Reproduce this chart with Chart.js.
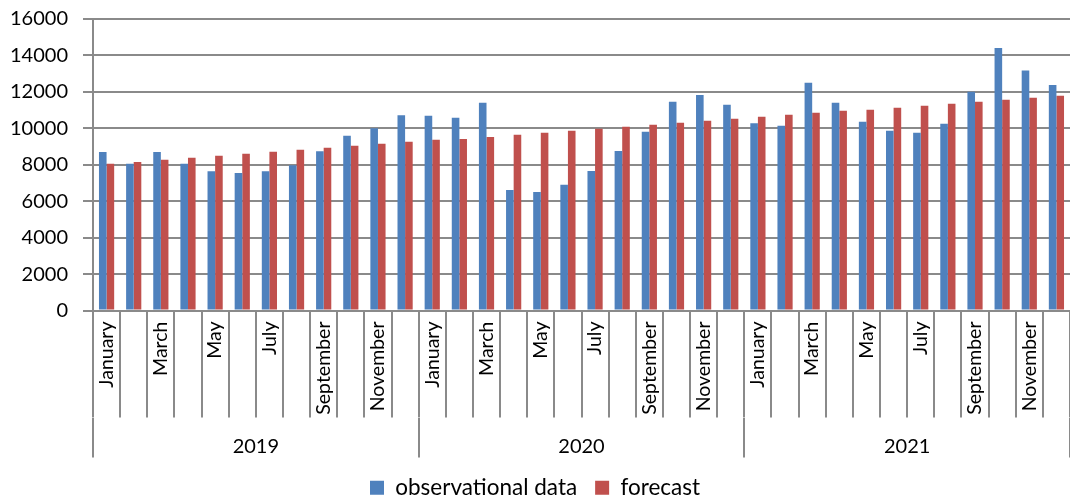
<!DOCTYPE html>
<html>
<head>
<meta charset="utf-8">
<script src="https://cdn.jsdelivr.net/npm/chart.js@4/dist/chart.umd.min.js"></script>
<style>
  html, body { margin: 0; padding: 0; background: #fff; }
  #wrap { width: 1070px; height: 498px; }
</style>
</head>
<body>
<div id="wrap"><canvas id="chart"></canvas></div>
<script>
const months = ["January", "February", "March", "April", "May", "June",
	"July", "August", "September", "October", "November", "December"];
const years = ["2019", "2020", "2021"];
const yTicks = [0, 2000, 4000, 6000, 8000, 10000, 12000, 14000, 16000];

const observed = [
	8700, 8050, 8700, 8050, 7650, 7550, 7650, 7970, 8740, 9590, 10000, 10720,
	10690, 10580, 11400, 6610, 6500, 6900, 7660, 8760, 9810, 11460, 11830, 11300,
	10280, 10140, 12500, 11400, 10360, 9860, 9750, 10250, 12010, 14410, 13170, 12380
];
const forecast = [
	8050, 8150, 8270, 8380, 8490, 8600, 8710, 8820, 8930, 9040, 9150, 9260,
	9370, 9420, 9530, 9640, 9750, 9860, 9970, 10080, 10190, 10300, 10410, 10520,
	10630, 10740, 10850, 10960, 11020, 11130, 11240, 11350, 11460, 11570, 11680, 11790
];

const labels = [];
years.forEach(y => months.forEach(m => labels.push(m)));

const gridColor = "#8a8a8a";
const fontFamily = "Lato, 'Noto Sans', sans-serif";

new Chart("chart", {
	type: "bar",
	data: {
		labels: labels,
		datasets: [{
			label: "observational data",
			data: observed,
			backgroundColor: "#4f81bd"
		},
		{
			label: "forecast",
			data: forecast,
			backgroundColor: "#c0504d"
		}]
	},
	options: {
		responsive: true,
		maintainAspectRatio: false,
		animation: false,
		categoryPercentage: 0.56,
		barPercentage: 1,
		layout: { padding: { top: 19, left: 0, right: 0, bottom: -11 } },
		plugins: {
			tooltip: { enabled: false },
			legend: {
				position: "bottom",
				labels: {
					boxWidth: 14,
					boxHeight: 14,
					padding: 18,
					color: "#000",
					font: { family: fontFamily, size: 22.5 }
				}
			}
		},
		scales: {
			y: {
				min: 0,
				max: 16000,
				afterFit: s => {
					s.width = 93;
					s.paddingTop = 0;
					s.paddingBottom = 0;
				},
				afterBuildTicks: s => { s.ticks = yTicks.map(v => ({ value: v })); },
				grid: { color: gridColor, lineWidth: 2, tickLength: 10 },
				border: { color: gridColor, width: 2 },
				ticks: {
					padding: 15,
					color: "#000",
					font: { family: fontFamily, size: 20 },
					callback: v => String(v)
				}
			},
			x: {
				position: "bottom",
				afterFit: s => { s.height = 107; },
				grid: {
					offset: true,
					drawOnChartArea: false,
					tickLength: 107,
					color: gridColor,
					lineWidth: 2
				},
				border: { color: gridColor, width: 2 },
				ticks: {
					autoSkip: false,
					minRotation: 90,
					maxRotation: 90,
					padding: -96,
					color: "#000",
					font: { family: fontFamily, size: 19.5 },
					callback: function(val, i) { return i % 2 === 0 ? this.getLabelForValue(val) : ""; }
				}
			},
			x2: {
				type: "category",
				labels: years,
				position: "bottom",
				offset: true,
				afterFit: s => { s.height = 41; },
				grid: {
					offset: true,
					drawOnChartArea: false,
					tickLength: 40,
					color: gridColor,
					lineWidth: 2
				},
				border: { display: false },
				ticks: {
					padding: -23,
					color: "#000",
					font: { family: fontFamily, size: 20 }
				}
			}
		}
	}
});
</script>
</body>
</html>
